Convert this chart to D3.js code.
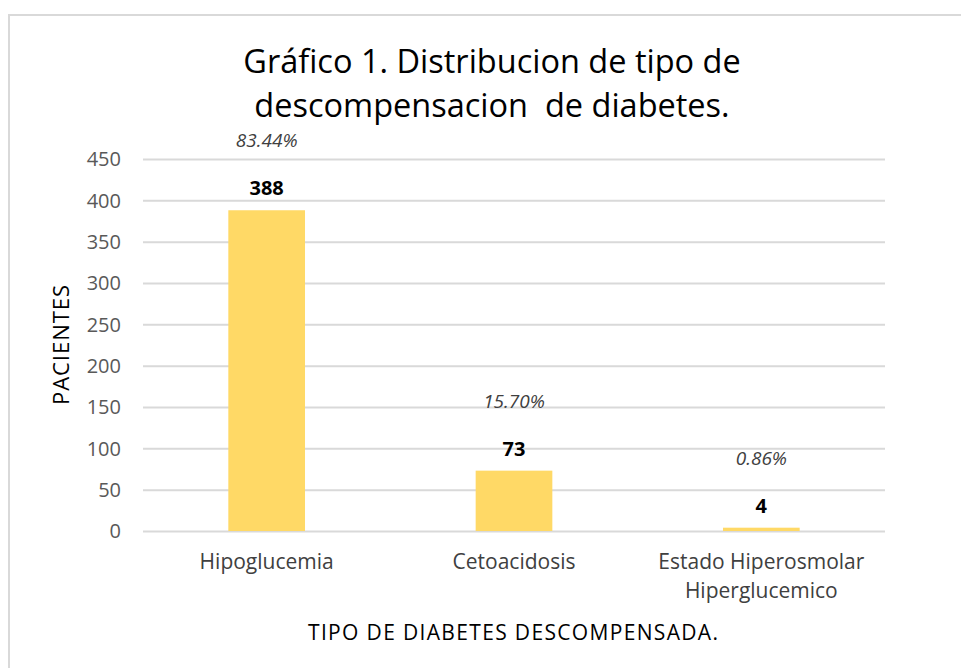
<!DOCTYPE html>
<html>
<head>
    <meta charset="utf-8">
    <title>Gráfico 1</title>
    <style>
        body { margin: 0; background: #fff; }
        text { font-family: "Open Sans", sans-serif; }
        .grid line { stroke: #d9d9d9; stroke-width: 2px; }
        .grid path { display: none; }
    </style>
</head>
<body>
    <script src="https://d3js.org/d3.v7.min.js"></script>
    <script>
        // chart data
        const categories = ["Hipoglucemia", "Cetoacidosis", "Estado Hiperosmolar\nHiperglucemico"];
        const pacientes = [388, 73, 4];
        const porcentajes = ["83.44%", "15.70%", "0.86%"];
        const yTicks = [0, 50, 100, 150, 200, 250, 300, 350, 400, 450];

        const width = 961;
        const height = 668;
        const margin = {top: 159, right: 76, bottom: 137, left: 143};

        const svg = d3.select("body").append("svg")
            .attr("width", width)
            .attr("height", height);

        // chart frame (top and left edges visible)
        svg.append("path")
            .attr("d", `M9,${height} V15 H${width}`)
            .attr("fill", "none")
            .attr("stroke", "#d9d9d9")
            .attr("stroke-width", 2);

        const x = d3.scaleBand()
            .domain(categories)
            .range([margin.left, width - margin.right])
            .paddingInner(0.69)
            .paddingOuter(0.345);

        const y = d3.scaleLinear()
            .domain([0, 450])
            .range([height - margin.bottom, margin.top]);

        // gridlines
        svg.append("g")
            .attr("class", "grid")
            .attr("transform", `translate(${margin.left},0)`)
            .call(d3.axisLeft(y).tickValues(yTicks).tickSize(-(width - margin.right - margin.left)).tickFormat(""));

        // y tick labels
        svg.append("g").selectAll("text")
            .data(yTicks)
            .join("text")
            .attr("x", margin.left - 22)
            .attr("y", d => y(d))
            .attr("dy", "0.36em")
            .attr("text-anchor", "end")
            .attr("font-size", 20)
            .attr("fill", "#595959")
            .text(d => d);

        // bars
        svg.append("g").selectAll("rect")
            .data(pacientes)
            .join("rect")
            .attr("x", (d, i) => x(categories[i]))
            .attr("y", d => y(d))
            .attr("width", x.bandwidth())
            .attr("height", d => y(0) - y(d))
            .attr("fill", "#ffd966");

        // value labels
        svg.append("g").selectAll("text")
            .data(pacientes)
            .join("text")
            .attr("x", (d, i) => x(categories[i]) + x.bandwidth() / 2)
            .attr("y", d => y(d) - 15)
            .attr("text-anchor", "middle")
            .attr("font-size", 20)
            .attr("font-weight", "bold")
            .attr("fill", "#000")
            .text(d => d);

        // percentage labels
        svg.append("g").selectAll("text")
            .data(pacientes)
            .join("text")
            .attr("x", (d, i) => x(categories[i]) + x.bandwidth() / 2)
            .attr("y", d => y(d) - 63)
            .attr("text-anchor", "middle")
            .attr("font-size", 19)
            .attr("font-style", "italic")
            .attr("fill", "#404040")
            .text((d, i) => porcentajes[i]);

        // category labels
        const cat = svg.append("g").selectAll("text")
            .data(categories)
            .join("text")
            .attr("x", d => x(d) + x.bandwidth() / 2)
            .attr("y", y(0) + 38)
            .attr("text-anchor", "middle")
            .attr("font-size", 21)
            .attr("fill", "#404040");
        cat.selectAll("tspan")
            .data(d => d.split("\n"))
            .join("tspan")
            .attr("x", function () { return this.parentNode.getAttribute("x"); })
            .attr("dy", (d, i) => i === 0 ? 0 : 29)
            .text(d => d);

        // title
        svg.append("text")
            .attr("x", 492)
            .attr("y", 73)
            .attr("text-anchor", "middle")
            .attr("font-size", 32.5)
            .attr("fill", "#000")
            .text("Gráfico 1. Distribucion de tipo de");
        svg.append("text")
            .attr("x", 492)
            .attr("y", 117)
            .attr("text-anchor", "middle")
            .attr("font-size", 32.5)
            .attr("fill", "#000")
            .style("white-space", "pre")
            .text("descompensacion  de diabetes.");

        // axis titles
        svg.append("text")
            .attr("transform", `translate(69,345) rotate(-90)`)
            .attr("text-anchor", "middle")
            .attr("font-size", 22)
            .attr("textLength", 120)
            .attr("fill", "#000")
            .text("PACIENTES");
        svg.append("text")
            .attr("x", 513)
            .attr("y", 640)
            .attr("text-anchor", "middle")
            .attr("font-size", 21)
            .attr("textLength", 410)
            .attr("fill", "#000")
            .text("TIPO DE DIABETES DESCOMPENSADA.");
    </script>
</body>
</html>
